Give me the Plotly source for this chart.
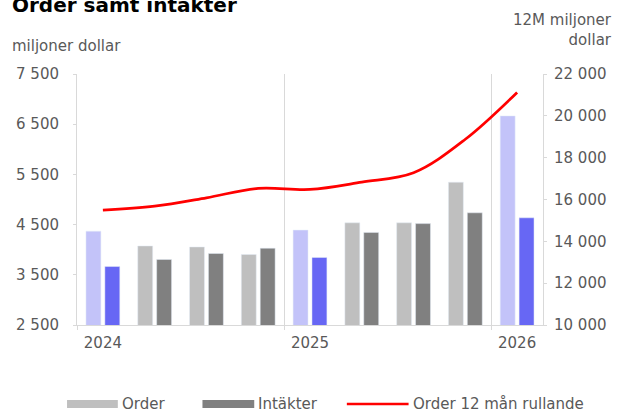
import plotly.graph_objects as go

# ---- data ----
quarters = ["2024 Q1", "2024 Q2", "2024 Q3", "2024 Q4",
            "2025 Q1", "2025 Q2", "2025 Q3", "2025 Q4", "2026 Q1"]
order = [4370, 4075, 4055, 3905, 4390, 4535, 4535, 5345, 6665]
intakter = [3665, 3805, 3925, 4030, 3845, 4345, 4520, 4735, 4635]
order_12m = [15490, 15680, 16080, 16530, 16480, 16830, 17280, 18880, 21120]
year_labels = ["2024", "2025", "2026"]
year_positions = [0, 4, 8]
left_ticks = [2500, 3500, 4500, 5500, 6500, 7500]
right_ticks = [10000, 12000, 14000, 16000, 18000, 20000, 22000]

x = list(range(len(quarters)))
is_q1 = [q.endswith("Q1") for q in quarters]
order_colors = ["#c3c3f9" if f else "#bfbfbf" for f in is_q1]
int_colors = ["#6767f4" if f else "#808080" for f in is_q1]

FONT = "DejaVu Sans"
TXT = "#595959"
GRID = "#d9d9d9"

fig = go.Figure()
fig.add_trace(go.Bar(x=x, y=order, name="Order", marker_color=order_colors,
                     showlegend=False, hovertext=quarters))
fig.add_trace(go.Bar(x=x, y=intakter, name="Intäkter", marker_color=int_colors,
                     showlegend=False, hovertext=quarters))
fig.add_trace(go.Scatter(x=x, y=order_12m, name="Order 12 mån rullande", yaxis="y2",
                         mode="lines", line=dict(color="#ff0000", width=2.7, shape="spline", smoothing=1.0),
                         showlegend=False, hovertext=quarters))

L, R, T, B = 77, 74, 74, 87
W, H = 619, 412
pw, ph = W - L - R, H - T - B

def px(xp):
    return (xp - L) / pw

def py(yp):
    return (H - B - yp) / ph

fig.update_layout(
    width=W, height=H,
    margin=dict(l=L, r=R, t=T, b=B),
    paper_bgcolor="white", plot_bgcolor="white",
    barmode="group", bargap=0.27, bargroupgap=0.21,
    separators=". ",
    font=dict(family=FONT, size=15, color=TXT),
    xaxis=dict(range=[-0.5, 8.5], tickvals=year_positions, ticktext=year_labels,
               ticks="", showgrid=False, showline=True, linecolor=GRID, linewidth=1,
               zeroline=False, tickfont=dict(size=15, color=TXT), ticklabelstandoff=4,
               minor=dict(tickvals=[-0.5, 3.5, 7.5], showgrid=True, gridcolor=GRID,
                          gridwidth=1, ticks="outside", ticklen=4, tickcolor=GRID)),
    yaxis=dict(range=[2500, 7500], tickvals=left_ticks, tickformat=",d",
               showgrid=False, zeroline=False, showline=True, linecolor=GRID,
               ticks="outside", ticklen=3, tickcolor=GRID, ticklabelstandoff=11,
               tickfont=dict(size=15, color=TXT)),
    yaxis2=dict(range=[10000, 22000], tickvals=right_ticks, tickformat=",d",
                overlaying="y", side="right", showgrid=False, zeroline=False,
                showline=True, linecolor=GRID, ticks="outside", ticklen=3, tickcolor=GRID,
                ticklabelstandoff=4, tickfont=dict(size=15, color=TXT)),
    showlegend=False,
)

annotations = [
    dict(text="<b>Order samt intäkter</b>", x=px(10), y=py(5), xref="paper", yref="paper",
         xanchor="left", yanchor="middle", showarrow=False,
         font=dict(family=FONT, size=20, color="#000000")),
    dict(text="miljoner dollar", x=px(10), y=py(46), xref="paper", yref="paper",
         xanchor="left", yanchor="middle", showarrow=False,
         font=dict(family=FONT, size=15, color=TXT)),
    dict(text="12M miljoner<br>dollar", x=px(616), y=py(30), xref="paper", yref="paper",
         xanchor="right", yanchor="middle", align="right", showarrow=False,
         font=dict(family=FONT, size=15, color=TXT)),
]

# legend (manual)
legend_items = [
    ("Order", "#bfbfbf", 67, 118, 8),
    ("Intäkter", "#808080", 203, 255, 8),
    ("Order 12 mån rullande", "#ff0000", 348, 410, 2.5),
]
shapes = []
ly = 404
for name, col, x0, x1, wdt in legend_items:
    if wdt > 5:
        shapes.append(dict(type="rect", xref="paper", yref="paper",
                           x0=px(x0), x1=px(x1), y0=py(ly + 4), y1=py(ly - 4),
                           fillcolor=col, line=dict(width=0)))
    else:
        shapes.append(dict(type="line", xref="paper", yref="paper",
                           x0=px(x0), x1=px(x1), y0=py(ly), y1=py(ly),
                           line=dict(color=col, width=wdt)))
    annotations.append(dict(text=name, x=px(x1 + 2), y=py(ly), xref="paper", yref="paper",
                            xanchor="left", yanchor="middle", showarrow=False,
                            font=dict(family=FONT, size=15, color=TXT)))

fig.update_layout(annotations=annotations, shapes=shapes)
fig.write_html("out.html", config={"displayModeBar": False},
               post_script="document.body.style.margin='0';document.body.style.overflow='hidden';")
